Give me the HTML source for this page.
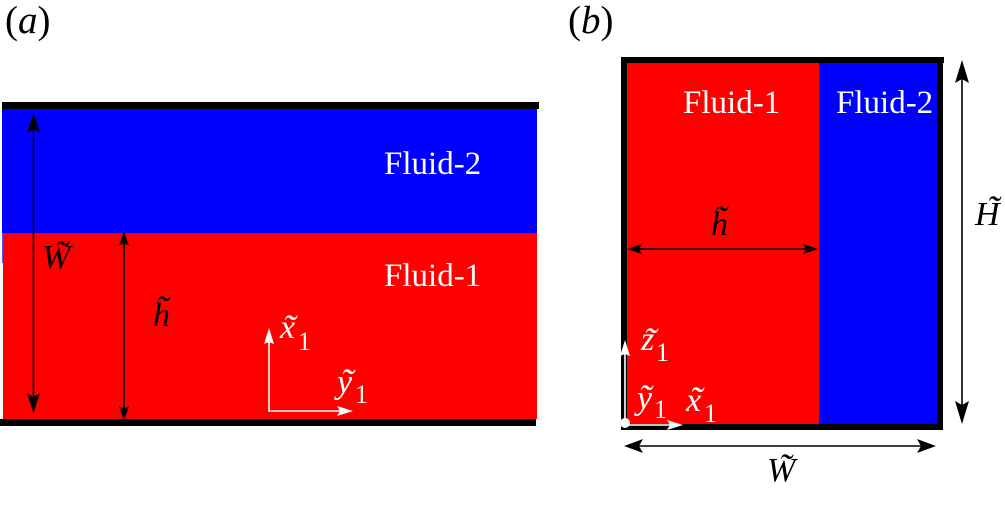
<!DOCTYPE html>
<html><head><meta charset="utf-8"><style>
html,body{margin:0;padding:0;background:#fff}
svg{display:block}
text{font-family:"Liberation Serif",serif}
.i{font-style:italic}
.f{font-size:33px;fill:#fff}
.m{font-size:34px;font-style:italic}
.t{font-size:38px;font-style:italic;text-anchor:middle}
.s{font-size:26px}
.w{fill:#fff}
</style></head><body>
<svg width="1005" height="513" viewBox="0 0 1005 513" xmlns="http://www.w3.org/2000/svg">
<rect width="1005" height="513" fill="#fff"/>
<!-- a -->
<rect x="2" y="109" width="535" height="124" fill="#00f"/>
<rect x="2" y="233" width="1" height="30" fill="#55f"/>
<rect x="3" y="233" width="534" height="186" fill="#f00"/>
<rect x="2" y="102" width="537" height="7" fill="#000"/>
<rect x="0" y="419" width="536" height="7" fill="#000"/>
<!-- b -->
<rect x="627" y="62" width="192" height="363" fill="#f00"/>
<rect x="819" y="62" width="118" height="363" fill="#00f"/>
<rect x="621" y="57" width="323" height="6" fill="#000"/>
<rect x="621" y="57" width="6" height="373" fill="#000"/>
<rect x="937" y="57" width="6" height="373" fill="#000"/>
<rect x="621" y="424" width="322" height="6" fill="#000"/>
<!-- black arrows -->
<g stroke="#000" stroke-width="1.6" fill="none">
<line x1="33.5" y1="125" x2="33.5" y2="400"/>
<line x1="124" y1="240" x2="124" y2="412"/>
<line x1="962" y1="75" x2="962" y2="410"/>
<line x1="635" y1="446" x2="925" y2="446"/>
<line x1="636" y1="249" x2="810" y2="249"/>
</g>
<g fill="#000">
<path d="M33.5 113L40 133L33.5 129L27 133Z"/>
<path d="M33.5 413L40 393L33.5 397L27 393Z"/>
<path d="M124 231L129 246L124 243L119 246Z"/>
<path d="M124 421L129 406L124 409L119 406Z"/>
<path d="M962 60L969 83L962 79L955 83Z"/>
<path d="M962 424L969 401L962 405L955 401Z"/>
<path d="M624 446L643 439L639 446L643 453Z"/>
<path d="M936 446L917 439L921 446L917 453Z"/>
<path d="M627 249L642 244L639 249L642 254Z"/>
<path d="M818 249L803 244L806 249L803 254Z"/>
</g>
<!-- white axes -->
<g stroke="#fff" stroke-width="1.6" fill="none">
<polyline points="269,338 269,411 342,411"/>
<polyline points="625,350 625,425 675,425"/>
</g>
<g fill="#fff">
<path d="M269 328L274 344L269 342L264 344Z"/>
<path d="M353 411L337 406L340 411L337 416Z"/>
<path d="M625 340L630 356L625 354L620 356Z"/>
<path d="M683 425L667 420L670 425L667 430Z"/>
<circle cx="625" cy="423" r="5"/>
</g>
<!-- labels -->
<text x="5" y="33" font-size="39">(<tspan class="i">a</tspan>)</text>
<text x="568" y="33" font-size="39">(<tspan class="i">b</tspan>)</text>
<text class="f" x="384" y="174">Fluid-2</text>
<text class="f" x="384" y="286">Fluid-1</text>
<text class="f" x="683" y="113">Fluid-1</text>
<text class="f" x="836" y="113">Fluid-2</text>
<!-- W a -->
<text class="m" x="42" y="268">W</text><text class="t" x="61" y="267">˜</text>
<!-- h a -->
<text class="m" x="153" y="326">h</text><text class="t" x="162" y="322">˜</text>
<!-- x1 y1 a -->
<text class="m w" x="280" y="338">x</text><text class="t w" x="289" y="341">˜</text>
<text class="s w" x="298" y="350">1</text>
<text class="m w" x="337" y="393">y</text><text class="t w" x="347" y="395">˜</text>
<text class="s w" x="355" y="403">1</text>
<!-- b -->
<text class="m" x="711" y="235">h</text><text class="t" x="720" y="232">˜</text>
<text class="m" x="975" y="225">H</text><text class="t" x="993" y="222">˜</text>
<text class="m" x="767" y="481">W</text><text class="t" x="785" y="480">˜</text>
<text class="m w" x="641" y="350">z</text><text class="t w" x="650" y="354">˜</text>
<text class="s w" x="656" y="361">1</text>
<text class="m w" x="637" y="409">y</text><text class="t w" x="645" y="411">˜</text>
<text class="s w" x="654" y="418">1</text>
<text class="m w" x="686" y="411">x</text><text class="t w" x="696" y="413">˜</text>
<text class="s w" x="704" y="422">1</text>
</svg>
</body></html>
